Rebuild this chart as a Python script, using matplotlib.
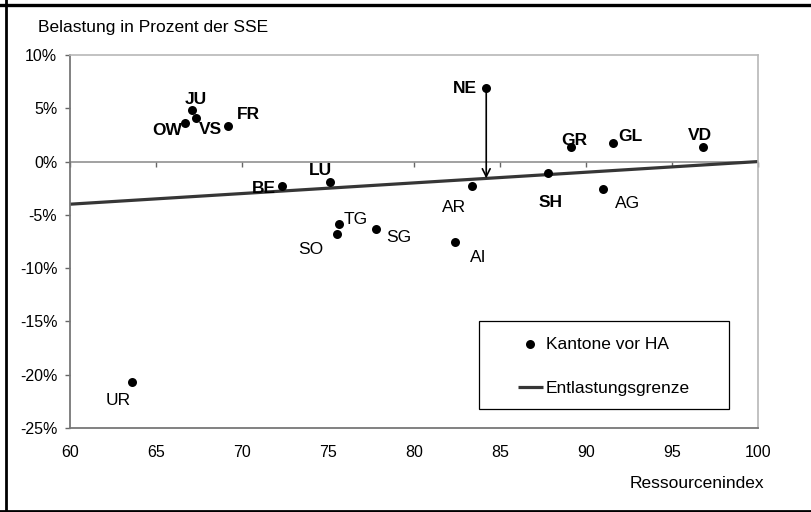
import matplotlib
matplotlib.use("Agg")
import matplotlib.pyplot as plt
from matplotlib.lines import Line2D
from matplotlib.patches import Rectangle
from matplotlib.ticker import FuncFormatter
import numpy as np

plt.rcParams["font.family"] = ["Liberation Sans", "DejaVu Sans"]

# Kantone: Ressourcenindex vs. Belastung in % der SSE
cantons = ["NE", "JU", "VS", "OW", "FR", "BE", "LU", "TG", "SO", "SG",
           "AR", "AI", "SH", "GR", "GL", "VD", "AG", "UR"]
res_index = [84.2, 67.1, 67.3, 66.7, 69.2, 72.3, 75.1, 75.65, 75.5, 77.8,
             83.4, 82.4, 87.8, 89.1, 91.55, 96.8, 91.0, 63.6]
burden = [6.9, 4.8, 4.1, 3.6, 3.3, -2.3, -1.9, -5.9, -6.8, -6.3,
          -2.3, -7.5, -1.1, 1.35, 1.7, 1.35, -2.6, -20.7]
bold_cantons = ["NE", "JU", "VS", "OW", "FR", "BE", "LU", "SH", "GR", "GL", "VD"]

# Entlastungsgrenze
limit_x = [60, 100]
limit_y = [-4, 0]

x_ticks = [60, 65, 70, 75, 80, 85, 90, 95, 100]
y_ticks = [10, 5, 0, -5, -10, -15, -20, -25]

# label offsets in pixels (text centre relative to the dot)
label_offsets = {
    "NE": (-21, 0), "JU": (4, 11), "OW": (-18, -7), "VS": (15, -12),
    "FR": (20, 12), "BE": (-18, -2), "LU": (-9, 11), "TG": (17, 5),
    "SO": (-26, -15), "SG": (23, -9), "AR": (-18, -21), "AI": (23, -16),
    "SH": (2, -29), "GR": (4, 7), "GL": (18, 7), "VD": (-3, 12),
    "AG": (24, -14), "UR": (-14, -18),
}

fig = plt.figure(figsize=(8.11, 5.12), dpi=100)
ax = fig.add_axes([70 / 811, 84 / 512, 688 / 811, 373 / 512])

ax.plot(limit_x, limit_y, color="#363636", lw=2.3, solid_capstyle="butt",
        label="Entlastungsgrenze", zorder=2)
ax.scatter(res_index, burden, s=42, color="black", zorder=3,
           label="Kantone vor HA", linewidths=0)

for name, xv, yv in zip(cantons, res_index, burden):
    dx, dy = label_offsets[name]
    ax.annotate(name, (xv, yv), xytext=(dx, dy), textcoords="offset pixels",
                ha="center", va="center", fontsize=12.5,
                fontweight="bold" if name in bold_cantons else "normal")

# arrow from NE down to the line
ne = cantons.index("NE")
ne_x, ne_y = res_index[ne], burden[ne]
ax.annotate("", xy=(ne_x, np.interp(ne_x, limit_x, limit_y)), xytext=(ne_x, ne_y),
            arrowprops=dict(arrowstyle="->", color="black", lw=1.2,
                            mutation_scale=14, shrinkA=0, shrinkB=0))

ax.set_xlim(60, 100)
ax.set_ylim(-25, 10)
ax.set_xticks(x_ticks)
ax.set_yticks(y_ticks)
ax.yaxis.set_major_formatter(FuncFormatter(lambda v, p: f"{v:.0f}%"))
ax.tick_params(axis="x", length=0, pad=12, labelsize=11.5)
ax.tick_params(axis="y", length=3.6, width=1, color="#666666", pad=5.5, labelsize=11.5)

for side in ["left", "bottom"]:
    ax.spines[side].set_color("#777777")
    ax.spines[side].set_linewidth(1.3)
for side in ["top", "right"]:
    ax.spines[side].set_color("#b8b8b8")
    ax.spines[side].set_linewidth(1.2)

# zero line with its tick marks
zero_ax = ax.secondary_xaxis(25 / 35)
zero_ax.set_xticks(x_ticks)
zero_ax.tick_params(direction="in", length=3.6, width=1, color="#666666",
                    labeltop=False, labelbottom=False)
for side in ["top", "bottom"]:
    zero_ax.spines[side].set_color("#888888")
    zero_ax.spines[side].set_linewidth(1.1)

# legend with its own frame
ax.add_patch(Rectangle((0.5945, 0.051), 0.3635, 0.236, transform=ax.transAxes,
                       fill=False, edgecolor="black", lw=0.9, zorder=4))
handles, labels = ax.get_legend_handles_labels()
ax.legend(handles[::-1], labels[::-1], loc="upper left",
          bbox_to_anchor=(0.651, 0.245), frameon=False, borderpad=0,
          borderaxespad=0, fontsize=12.5, handlelength=1.45,
          handletextpad=0.15, labelspacing=1.7, markerscale=1.0)

fig.text(38 / 811, 1 - 32 / 512, "Belastung in Prozent der SSE", fontsize=12.5,
         va="baseline", ha="left")
fig.text(764 / 811, 1 - 488 / 512, "Ressourcenindex", fontsize=12.5,
         va="baseline", ha="right")

# outer frame (top, left, bottom)
for xs, ys in [([0, 1], [1 - 5 / 512, 1 - 5 / 512]),
               ([5.5 / 811, 5.5 / 811], [0, 1]),
               ([0, 1], [1.5 / 512, 1.5 / 512])]:
    fig.add_artist(Line2D(xs, ys, transform=fig.transFigure, color="black",
                          lw=2.4 if ys[0] > 0.9 else 2.0))

fig.savefig("out.png", dpi=100)
